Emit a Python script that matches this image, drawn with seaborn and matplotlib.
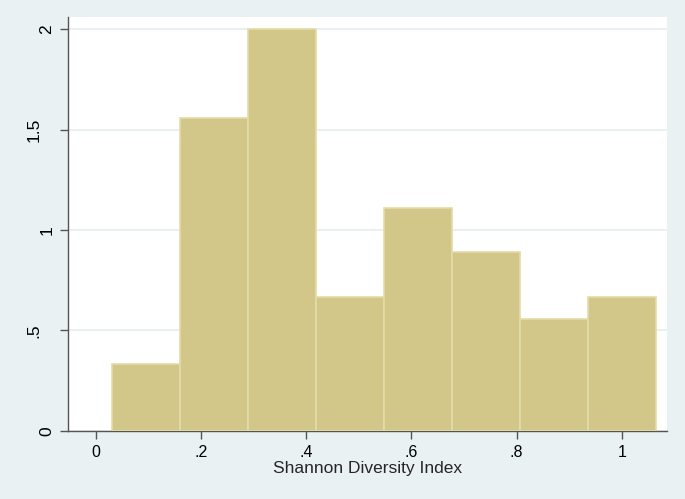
import matplotlib
matplotlib.use("Agg")
import seaborn as sns
import matplotlib.pyplot as plt
import matplotlib.transforms as mtransforms
import numpy as np

# Histogram bins (Shannon Diversity Index) and densities
bin_edges = [0.030, 0.1594, 0.2888, 0.4182, 0.5476, 0.6770, 0.8064, 0.9358, 1.0652]
densities = [0.333, 1.556, 2.0, 0.667, 1.111, 0.889, 0.556, 0.667]
x_ticks = [0, 0.2, 0.4, 0.6, 0.8, 1.0]
x_ticklabels = ["0", ".2", ".4", ".6", ".8", "1"]
y_ticks = [0, 0.5, 1, 1.5, 2]
y_ticklabels = ["0", ".5", "1", "1.5", "2"]

sns.set_theme(style="white")
plt.rcParams['font.family'] = ['Liberation Sans', 'DejaVu Sans']

bg = "#EAF1F3"
fig = plt.figure(figsize=(6.85, 4.99), dpi=100, facecolor=bg)
ax = fig.add_axes([0.0993, 0.1363, 0.8744, 0.8297])
ax.set_facecolor("white")

centers = [(a + b) / 2 for a, b in zip(bin_edges[:-1], bin_edges[1:])]
sns.histplot(x=centers, weights=densities, bins=bin_edges, stat="count",
             color="#D2C789", alpha=1, edgecolor="#E4DCA8", linewidth=1.2,
             ax=ax, zorder=3)

ax.set_xlim(-0.053, 1.086)
ax.set_ylim(0, 2.06)
ax.set_xticks(x_ticks)
ax.set_xticklabels(x_ticklabels, fontsize=11.5)
ax.set_yticks(y_ticks)
ax.set_yticklabels(y_ticklabels, fontsize=12.5, rotation=90, va="center")
ax.yaxis.grid(True, color="#E4EEF0", linewidth=1.2, zorder=0)
ax.set_axisbelow(True)

for s in ["top", "right"]:
    ax.spines[s].set_visible(False)
for s in ["left", "bottom"]:
    ax.spines[s].set_color("#555555")
    ax.spines[s].set_linewidth(1.0)

ax.tick_params(axis="both", direction="out", length=6, width=1.0,
               color="#555555", labelcolor="black", pad=4,
               bottom=True, left=True)

# Stata pushes the labels that contain a decimal point further left
for lab in ax.get_yticklabels():
    if "." in lab.get_text():
        lab.set_transform(lab.get_transform() +
                          mtransforms.ScaledTranslation(-0.13, 0, fig.dpi_scale_trans))

ax.set_xlabel("Shannon Diversity Index", fontsize=12.5, labelpad=1)
ax.set_ylabel("")

fig.savefig("out.png", dpi=100, facecolor=bg)
